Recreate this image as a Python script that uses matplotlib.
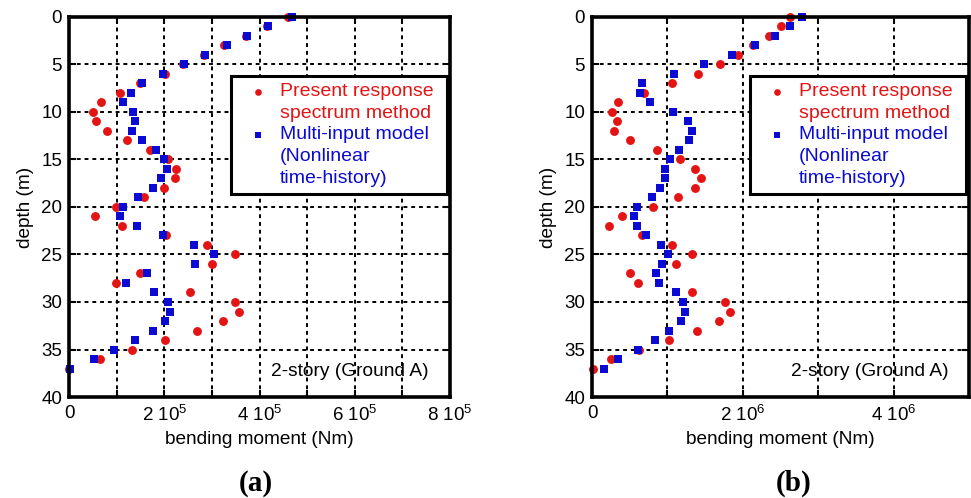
import matplotlib
matplotlib.use("Agg")
import matplotlib.pyplot as plt
import numpy as np
from matplotlib.legend_handler import HandlerLine2D
from matplotlib.ticker import FuncFormatter, MultipleLocator

plt.rcParams["font.family"] = ["Liberation Sans", "DejaVu Sans"]
plt.rcParams["mathtext.fontset"] = "custom"
plt.rcParams["mathtext.rm"] = "Liberation Sans"
plt.rcParams["mathtext.it"] = "Liberation Sans:italic"

RED = "#e41414"
BLUE = "#0a0ad2"

depth = np.arange(0, 38)

# (a) bending moment, units of 1e5 Nm
a_response = [4.59, 4.15, 3.72, 3.26, 2.84, 2.39, 2.01, 1.50, 1.07, 0.67,
              0.50, 0.57, 0.80, 1.22, 1.69, 2.08, 2.25, 2.22, 2.00, 1.58,
              0.99, 0.54, 1.11, 2.04, 2.90, 3.49, 3.01, 1.49, 0.99, 2.54,
              3.49, 3.56, 3.24, 2.68, 2.02, 1.32, 0.64, 0.00]
a_multi = [4.68, 4.17, 3.74, 3.31, 2.86, 2.42, 1.97, 1.53, 1.30, 1.13,
           1.34, 1.38, 1.32, 1.53, 1.82, 2.00, 2.05, 1.93, 1.76, 1.45,
           1.13, 1.08, 1.42, 1.97, 2.63, 3.05, 2.64, 1.63, 1.19, 1.78,
           2.07, 2.11, 2.02, 1.76, 1.38, 0.94, 0.52, 0.02]

# (b) bending moment, units of 1e6 Nm
b_response = [2.62, 2.50, 2.35, 2.14, 1.94, 1.70, 1.40, 1.06, 0.69, 0.34,
              0.26, 0.33, 0.29, 0.50, 0.86, 1.17, 1.37, 1.44, 1.36, 1.14,
              0.81, 0.40, 0.23, 0.66, 1.06, 1.33, 1.12, 0.51, 0.61, 1.33,
              1.77, 1.83, 1.69, 1.39, 1.02, 0.62, 0.25, 0.01]
b_multi = [2.79, 2.63, 2.43, 2.16, 1.85, 1.49, 1.09, 0.66, 0.63, 0.77,
           1.08, 1.27, 1.33, 1.28, 1.15, 1.03, 0.97, 0.97, 0.90, 0.79,
           0.59, 0.56, 0.60, 0.72, 0.91, 1.01, 0.93, 0.85, 0.89, 1.11,
           1.20, 1.23, 1.18, 1.02, 0.83, 0.61, 0.34, 0.16]

label_response = "Present response\nspectrum method"
label_multi = "Multi-input model  \n(Nonlinear\ntime-history)"


class RaisedMarker(HandlerLine2D):
    """Legend marker lifted up to sit beside the first line of its label."""

    def __init__(self, lift, **kwargs):
        super().__init__(**kwargs)
        self.lift = lift

    def create_artists(self, legend, orig_handle, xdescent, ydescent,
                       width, height, fontsize, trans):
        artists = super().create_artists(legend, orig_handle, xdescent, ydescent,
                                         width, height, fontsize, trans)
        for artist in artists:
            artist.set_ydata(np.asarray(artist.get_ydata()) + self.lift * fontsize)
        return artists


def sci_label(exponent):
    def fmt(value, pos):
        if value == 0:
            return "0"
        mant = value / 10 ** exponent
        return r"$\mathregular{%d\ 10^{%d}}$" % (round(mant), exponent)
    return fmt


def draw_panel(axes, response, multi, scale, exponent, xmax, major, minor, tag, tag_x):
    red_line, = axes.plot(np.array(response) * scale, depth, "o", color=RED,
                          markersize=6.4, markeredgewidth=0, label=label_response,
                          clip_on=False, zorder=3)
    blue_line, = axes.plot(np.array(multi) * scale, depth, "s", color=BLUE,
                           markersize=6.0, markeredgewidth=0, label=label_multi,
                           clip_on=False, zorder=4)

    axes.set_xlim(0, xmax)
    axes.set_ylim(40, 0)
    axes.xaxis.set_major_locator(MultipleLocator(major))
    axes.xaxis.set_minor_locator(MultipleLocator(minor))
    axes.yaxis.set_major_locator(MultipleLocator(5))
    axes.xaxis.set_major_formatter(FuncFormatter(sci_label(exponent)))

    axes.grid(True, which="both", axis="x", color="black", linestyle=(0, (2, 2)), linewidth=1.4)
    axes.grid(True, which="major", axis="y", color="black", linestyle=(0, (2, 2)), linewidth=1.4)
    axes.set_axisbelow(True)

    axes.tick_params(which="both", direction="in", top=True, right=True,
                     length=5, width=1.5, labelsize=13.5, pad=6)
    axes.tick_params(axis="y", pad=5)
    for spine in axes.spines.values():
        spine.set_linewidth(2.6)
        spine.set_zorder(5)

    axes.set_xlabel("bending moment (Nm)", fontsize=13.7, labelpad=4)
    axes.set_ylabel("depth (m)", fontsize=13.7, labelpad=5)

    legend = axes.legend(loc="upper right", bbox_to_anchor=(0.992, 0.846),
                         fontsize=14, frameon=True, fancybox=False,
                         markerscale=0.75, handlelength=2.0, handletextpad=0.1,
                         borderpad=0.4, labelspacing=0.22, borderaxespad=0,
                         handler_map={red_line: RaisedMarker(0.55),
                                      blue_line: RaisedMarker(1.1)})
    legend.get_frame().set_edgecolor("black")
    legend.get_frame().set_linewidth(2.2)
    legend.get_frame().set_alpha(1)
    for text, col in zip(legend.get_texts(), [RED, BLUE]):
        text.set_color(col)
        text.set_linespacing(1.36)

    axes.text(0.737, 0.066, "2-story (Ground A)", transform=axes.transAxes,
              ha="center", va="center", fontsize=13.8)
    figure.text(tag_x, 0.03, tag, ha="center", va="center", fontsize=21,
                fontweight="bold", family="Liberation Serif")


figure = plt.figure(figsize=(9.71, 4.98), dpi=100)
ax_a = figure.add_axes([0.0711, 0.2028, 0.3924, 0.7631])
ax_b = figure.add_axes([0.6097, 0.2028, 0.3883, 0.7631])

draw_panel(ax_a, a_response, a_multi, 1e5, 5, 8e5, 2e5, 1e5, "(a)", 0.263)
draw_panel(ax_b, b_response, b_multi, 1e6, 6, 5e6, 2e6, 1e6, "(b)", 0.817)

figure.savefig("out.png", dpi=100)
